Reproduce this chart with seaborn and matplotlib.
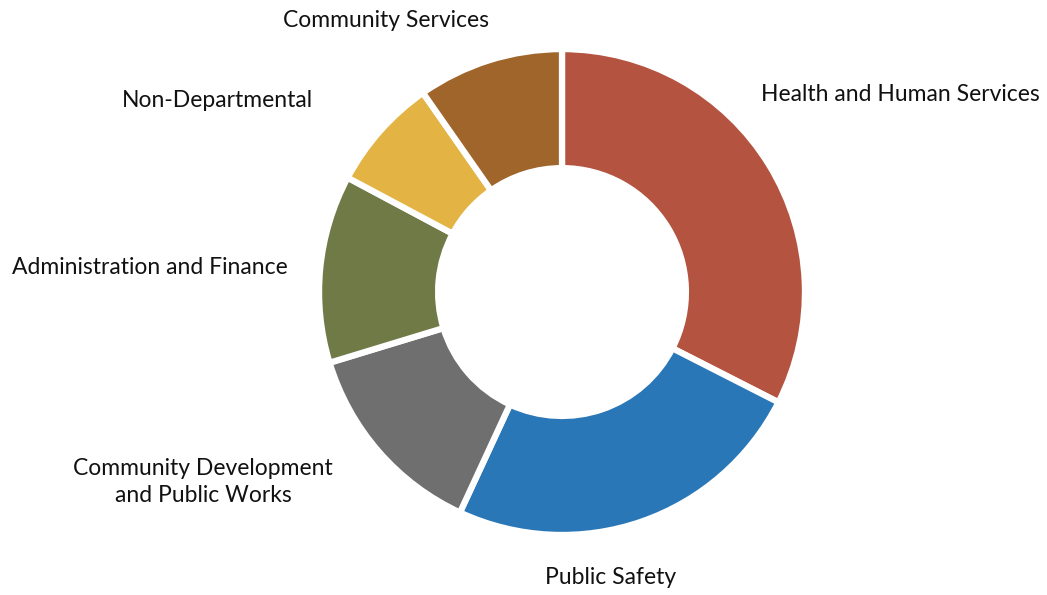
import matplotlib
matplotlib.use("Agg")
import matplotlib.pyplot as plt
import seaborn as sns

categories = ["Health and Human Services", "Public Safety",
              "Community Development\nand Public Works", "Administration and Finance",
              "Non-Departmental", "Community Services"]
values = [32.5, 24.4, 13.4, 12.5, 7.5, 9.7]
colors = ["#B55341", "#2A77B8", "#6F6F6F", "#707A47", "#E3B444", "#A0652A"]
label_pos = [(1.391, 0.811), (0.198, -1.173), (-1.477, -0.782),
             (-1.695, 0.099), (-1.420, 0.790), (-0.724, 1.119)]

sns.set_theme(style="white")
plt.rcParams['font.family'] = ['Lato', 'DejaVu Sans']

fig = plt.figure(figsize=(10.47, 5.95), dpi=100)
ax = fig.add_axes([0, 0, 1, 1])
wedges, _ = ax.pie(values, colors=sns.color_palette(colors), startangle=90,
                   counterclock=False, radius=1.0,
                   wedgeprops=dict(width=0.49, edgecolor="white", linewidth=4.5))
for lab, (x, y) in zip(categories, label_pos):
    ax.text(x, y, lab, ha="center", va="center", fontsize=16.5, color="#111111",
            linespacing=1.3)
ax.set_xlim(-2.313, 1.996)
ax.set_ylim(-1.247, 1.202)
ax.set_aspect("equal")
ax.axis("off")
fig.savefig("out.png", dpi=100)
